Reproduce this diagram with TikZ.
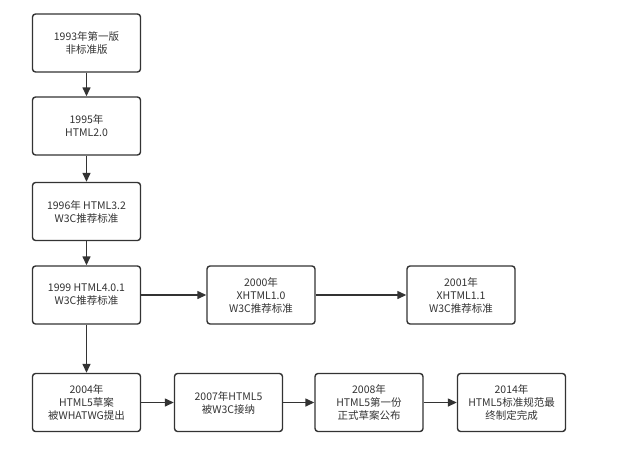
\documentclass[tikz,border=0pt]{standalone}
\usepackage{fontspec}
\setmainfont{Noto Sans CJK SC}
\usetikzlibrary{arrows.meta}
\definecolor{ink}{HTML}{333333}
\tikzset{
  stage/.style={draw=ink, line width=1.4pt, rounded corners=3pt, fill=white,
    minimum width=108pt, minimum height=58pt, align=center, text=ink,
    font=\fontsize{10.5pt}{13pt}\selectfont, inner sep=2pt},
  flow/.style={draw=ink, line width=1.4pt, -{Triangle[length=9pt,width=8pt]}}
}
\begin{document}
\begin{tikzpicture}[x=1pt,y=-1pt]
  \useasboundingbox (0,0) rectangle (642,448);
  % left column
  \node[stage] (v93) at (86.5,43) {1993年第一版\\非标准版};
  \node[stage] (v95) at (86.5,126) {1995年\\HTML2.0};
  \node[stage] (v96) at (86.5,211.5) {1996年 HTML3.2\\W3C推荐标准};
  \node[stage] (v99) at (86.5,295) {1999 HTML4.0.1\\W3C推荐标准};
  \node[stage] (v04) at (86.5,402.5) {2004年\\HTML5草案\\被WHATWG提出};
  % xhtml row
  \node[stage] (x00) at (261,295) {2000年\\XHTML1.0\\W3C推荐标准};
  \node[stage] (x01) at (461,295) {2001年\\XHTML1.1\\W3C推荐标准};
  % html5 row
  \node[stage] (v07) at (228.5,402.5) {2007年HTML5\\被W3C接纳};
  \node[stage] (v08) at (369,402.5) {2008年\\HTML5第一份\\正式草案公布};
  \node[stage] (v14) at (511.5,402.5) {2014年\\HTML5标准规范最\\终制定完成};
  % arrows
  \draw[flow] (v93)--(v95);
  \draw[flow] (v95)--(v96);
  \draw[flow] (v96)--(v99);
  \draw[flow] (v99)--(v04);
  \draw[flow] (v99)--(x00);
  \draw[flow] (x00)--(x01);
  \draw[flow] (v04)--(v07);
  \draw[flow] (v07)--(v08);
  \draw[flow] (v08)--(v14);
\end{tikzpicture}
\end{document}
